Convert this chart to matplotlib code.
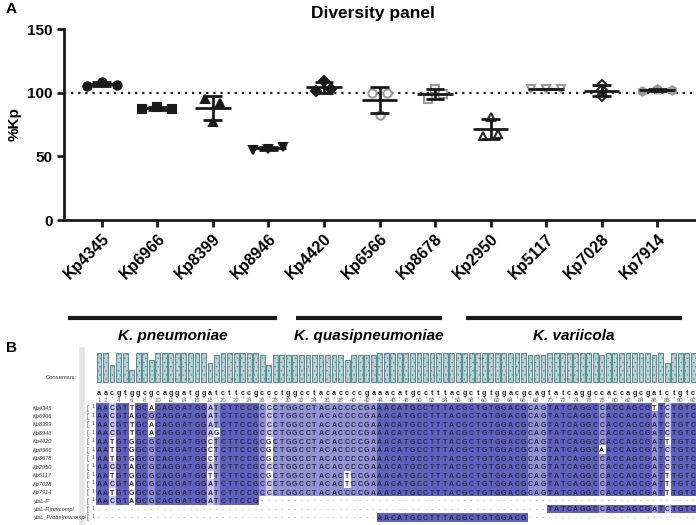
import numpy as np
import matplotlib
matplotlib.use('Agg')
import matplotlib.pyplot as plt
import matplotlib.transforms as mtransforms

plt.rcParams['font.family'] = ['Liberation Sans', 'DejaVu Sans']
plt.rcParams['hatch.color'] = '#9dbbc0'
plt.rcParams['hatch.linewidth'] = 0.5

# ---- panel A data (%Kp, three replicates per strain) ----
strains = ['Kp4345', 'Kp6966', 'Kp8399', 'Kp8946', 'Kp4420', 'Kp6566',
           'Kp8678', 'Kp2950', 'Kp5117', 'Kp7028', 'Kp7914']
reps = [[105.5, 108.5, 106.0],
        [87.0, 89.0, 87.0],
        [95.0, 92.0, 77.0],
        [55.0, 56.0, 57.5],
        [109.0, 101.0, 102.5],
        [100.0, 100.0, 82.4],
        [102.6, 95.3, 98.6],
        [80.6, 66.3, 67.6],
        [102.5, 102.5, 102.5],
        [105.7, 97.4, 102.0],
        [101.3, 103.2, 102.0]]
species = ['K. pneumoniae', 'K. quasipneumoniae', 'K. variicola']
species_members = [[0, 1, 2, 3], [4, 5, 6], [7, 8, 9, 10]]
yticks = [0, 50, 100, 150]

# ---- panel B data (alignment) ----
seq_names = ['Kp4345', 'Kp6966', 'Kp8399', 'Kp8946', 'Kp4420', 'Kp6566', 'Kp8678',
             'Kp2950', 'Kp5117', 'Kp7028', 'Kp7914', 'ybiL-F', 'ybiL-R|revcompl',
             'ybiL_Probe|revcompl']
seqs = [
    "AACGTTGCACAGGATGGATCTTCCGCCCTGGCCTACACCCCGAAACATGCCTTTACGCTGTGGACGCAGTATCAGGCCACCAGCGTTCTGTC",
    "AACGTAGCGCAGGATGGATCTTCCGCCCTGGCCTACACCCCGAAACATGCCTTTACGCTGTGGACGCAGTATCAGGCCACCAGCGATCTGTC",
    "AACGTTGCACAGGATGGATCTTCCGCCCTGGCCTACACCCCGAAACATGCCTTTACGCTGTGGACGCAGTATCAGGCCACCAGCGATCTGTC",
    "AACGTTGCACAGGATGGAGCTTCCGCCCTGGCCTACACCCCGAAACATGCCTTTACGCTGTGGACGCAGTATCAGGCCACCAGCGATCTGTC",
    "AATGTGGCGCAGGATGGCTCTTCCGCGCTGGCCTACACCCCGAAACATGCCTTTACGCTGTGGACGCAGTATCAGGCCACCAGCGATTTGTC",
    "AATGTGGCGCAGGATGGCTCTTCCGCGCTGGCCTACACCCCGAAACATGCCTTTACGCTGTGGACGCAGTATCAGGCAACCAGCGATCTGTC",
    "AATGTGGCGCAGGATGGCTCTTCCGCGCTGGCCTACACCCCGAAACATGCCTTTACGCTGTGGACGCAGTATCAGGCCACCAGCGATCTGTC",
    "AACGTAGCGCAGGATGGATCTTCCGCCCTGGCCTACACCCCGAAACATGCCTTTACGCTGTGGACGCAGTATCAGGCCACCAGCGATCTGTC",
    "AATGTGGCGCAGGATGGTTCTTCCGCGCTGGCCTACACTCCGAAACATGCCTTTACGCTGTGGACGCAGTATCAGGCCACCAGCGATTTGTC",
    "AACGTAGCGCAGGATGGATCTTCCGCCCTGGCCTACACTCCGAAACATGCCTTTACGCTGTGGACGCAGTATCAGGCCACCAGCGATTTGTC",
    "AATGTGGCGCAGGATGGATCTTCCGCCCTGGCCTACACCCCGAAACATGCCTTTACGCTGTGGACGCAGTATCAGGCCACCAGCGATTTGTC",
    "AACGTAGCGCAGGATGGATCTTCCG" + "-" * 67,
    "-" * 69 + "TATCAGGCCACCAGCGATCTGTC",
    "-" * 43 + "AACATGCCTTTACGCTGTGGACG" + "-" * 26,
]

# marker styles (marker, size, face, edge)
styles = [('o', 6, '#1a1a1a', '#1a1a1a'), ('s', 5.5, '#1a1a1a', '#1a1a1a'),
          ('^', 6, '#1a1a1a', '#1a1a1a'), ('v', 6, '#1a1a1a', '#1a1a1a'),
          ('D', 4.8, '#1a1a1a', '#1a1a1a'), ('o', 6, 'white', '#9a9a9a'),
          ('s', 5.5, 'white', '#9a9a9a'), ('^', 6, 'white', '#2a2a2a'),
          ('v', 6, 'white', '#9a9a9a'), ('D', 4.8, 'white', '#2a2a2a'),
          ('h', 6, '#9a9a9a', '#9a9a9a')]


def spread(vals, gap=3.5, step=0.27):
    # simple scatter-dot layout: points close in y are pushed apart in x
    vals = np.asarray(vals)
    order = np.argsort(vals)
    clusters, cur = [], [order[0]]
    for i in order[1:]:
        if vals[i] - vals[cur[-1]] < gap:
            cur.append(i)
        else:
            clusters.append(cur)
            cur = [i]
    clusters.append(cur)
    off = np.zeros(len(vals))
    for c in clusters:
        c = sorted(c)
        for k, idx in enumerate(c):
            off[idx] = (k - (len(c) - 1) / 2) * step
    return off


W, H = 696, 525
fig = plt.figure(figsize=(W / 100, H / 100), dpi=100)

# ================= panel A =================
ax = fig.add_axes([64 / W, 1 - 220 / H, (W - 65) / W, 191 / H])
xs = np.arange(len(strains))
ax.axhline(100, ls=(0, (1, 2.2)), color='#1a1a1a', lw=1.6, zorder=1)
for i, vals in enumerate(reps):
    vals = np.asarray(vals)
    m, sd = vals.mean(), vals.std(ddof=1)
    mk, ms, fc, ec = styles[i]
    ax.plot(xs[i] + spread(vals), vals, ls='none', marker=mk, ms=ms,
            mfc=fc, mec=ec, mew=1.5, zorder=3)
    ax.hlines(m, xs[i] - 0.32, xs[i] + 0.32, color='#1a1a1a', lw=2, zorder=4)
    ax.vlines(xs[i], m - sd, m + sd, color='#1a1a1a', lw=2, zorder=4)
    ax.hlines([m - sd, m + sd], xs[i] - 0.17, xs[i] + 0.17, color='#1a1a1a', lw=2, zorder=4)

ax.set_xlim(-0.68, 10.68)
ax.set_ylim(0, 150)
ax.set_yticks(yticks)
ax.set_xticks(xs)
ax.set_xticklabels(strains, rotation=45, ha='right', rotation_mode='anchor',
                   fontsize=11.5, fontweight='bold')
for lab in ax.get_yticklabels():
    lab.set_fontweight('bold')
    lab.set_fontsize(11)
ax.tick_params(width=2, length=5, color='#1a1a1a', pad=3)
for s in ['top', 'right']:
    ax.spines[s].set_visible(False)
for s in ['left', 'bottom']:
    ax.spines[s].set_linewidth(2)
    ax.spines[s].set_color('#1a1a1a')
ax.set_ylabel('%Kp', fontsize=11, fontweight='bold', labelpad=4)
ax.set_title('Diversity panel', fontsize=12.5, fontweight='bold', pad=8, x=0.49)

trans = mtransforms.blended_transform_factory(ax.transData, ax.transAxes)
line_extra = [(-0.6, 3.15), (3.5, 6.12), (6.55, 10.45)]
for name, mem, (a, b) in zip(species, species_members, line_extra):
    ax.plot([a, b], [-0.513, -0.513], color='#1a1a1a', lw=3, transform=trans,
            clip_on=False, solid_capstyle='butt')
    ax.text((a + b) / 2, -0.607, name, transform=trans, ha='center', va='center',
            fontsize=11, fontweight='bold', style='italic')

fig.text(6 / W, 1 - 9 / H, 'A', fontsize=11, fontweight='bold', va='center')
fig.text(6 / W, 1 - 348 / H, 'B', fontsize=11, fontweight='bold', va='center')

# ================= panel B =================
nrow, ncol = len(seqs), len(seqs[0])
cols = np.arange(1, ncol + 1)
ax2 = fig.add_axes([0, 0, 1, 185 / H])
ax2.set_xlim(1 - 99 / 6.53, 1 + (W - 99) / 6.53)
ax2.set_ylim(13.83, -8.04)
ax2.axis('off')

arr = np.array([list(s) for s in seqs])
consensus, top_count = [], []
for j in range(ncol):
    col = [c for c in arr[:, j] if c != '-']
    letters, counts = np.unique(col, return_counts=True)
    consensus.append(letters[np.argmax(counts)])
    top_count.append(counts.max())
consensus = np.array(consensus)
top_count = np.array(top_count)
pid = top_count / nrow * 100

dark, mid, light = np.array([96, 96, 192]), np.array([146, 146, 214]), np.array([200, 200, 234])
img = np.ones((nrow, ncol, 3))
for j in range(ncol):
    if pid[j] > 80:
        c = dark
    elif pid[j] > 60:
        c = mid
    elif pid[j] > 40:
        c = light
    else:
        continue
    for i in range(nrow):
        if arr[i, j] == consensus[j]:
            img[i, j] = c / 255
ax2.imshow(img, extent=(0.5, ncol + 0.5, nrow - 0.5, -0.5), aspect='auto',
           interpolation='nearest', zorder=1)

for i in range(nrow):
    for j in range(ncol):
        ch = arr[i, j]
        if ch == '-':
            ax2.text(cols[j], i, '-', ha='center', va='center', fontsize=4.5,
                     color='#888888', zorder=2)
        else:
            ax2.text(cols[j], i + 0.05, ch, ha='center', va='center', fontsize=5,
                     fontweight='bold', color='#2a2a3a', zorder=2)
    ax2.text(-9.1, i, seq_names[i], ha='left', va='center', fontsize=4.1,
             style='italic', color='#333333')
    ax2.text(-0.95, i, '[', ha='left', va='center', fontsize=5, color='#555555')
    ax2.text(-0.15, i - 0.15, '1', ha='left', va='center', fontsize=4, color='#555555')

# consensus histogram, letters and ruler
frac = top_count / top_count.max()
ax2.bar(cols, -frac * 3.43, bottom=-3.07, width=0.74, color='#bcd2d5',
        edgecolor='#5f8e96', linewidth=0.8, hatch='....', zorder=2)
for j in range(ncol):
    ax2.text(cols[j], -1.77, consensus[j].lower(), ha='center', va='center',
             fontsize=5.2, fontweight='bold', color='#222222')
ax2.vlines(cols, -1.42, -1.2, color='#aaaaaa', lw=0.6)
ruler = [1] + list(range(2, ncol + 1, 2))
for n in ruler:
    ax2.text(n, -0.83, str(n), ha='center', va='center', fontsize=4.3, color='#666666')
ax2.text(-2.4, -3.66, 'Consensus:', ha='right', va='center', fontsize=4.2, color='#333333')
ax2.vlines(-1.6, -7.2, 13.8, color='#e6e6e6', lw=4, zorder=0)

fig.savefig('out.png', dpi=100)
